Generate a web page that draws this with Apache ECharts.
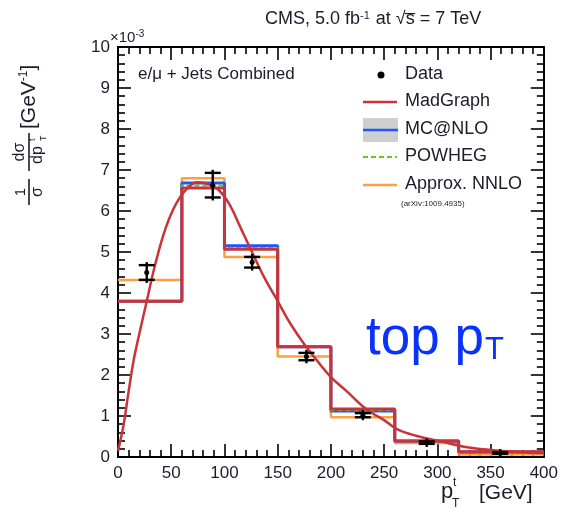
<!DOCTYPE html>
<html>
<head>
<meta charset="utf-8">
<script src="https://cdn.jsdelivr.net/npm/echarts@6/dist/echarts.min.js"></script>
<style>
  html, body { margin: 0; padding: 0; background: #fff; }
  #chart { width: 561px; height: 517px; }
</style>
</head>
<body>
<div id="chart"></div>
<script>
// Bin edges of the top-quark pT distribution [GeV]
const binEdges = [0, 60, 100, 150, 200, 260, 320, 400];

// Normalised cross sections per bin (units of 1e-3 GeV^-1)
const madgraph = [3.80, 6.56, 5.07, 2.69, 1.17, 0.39, 0.13];
const mcatnlo  = [3.80, 6.68, 5.15, 2.69, 1.12, 0.39, 0.12];
const powheg   = [3.80, 6.62, 5.10, 2.69, 1.14, 0.39, 0.12];
const approxNNLO = [4.32, 6.80, 4.88, 2.45, 0.97, 0.34, 0.06];

// Measured points: pT position, value, uncertainty
const dataX   = [27, 89, 126, 177, 230, 290, 359];
const dataY   = [4.50, 6.63, 4.75, 2.45, 1.02, 0.35, 0.10];
const dataErr = [0.18, 0.30, 0.13, 0.09, 0.05, 0.03, 0.02];

// Smooth MadGraph prediction (pT, value)
const curveX = [0, 5, 10, 15, 20, 27, 35, 45, 55, 65, 75, 85, 95, 105, 115, 125, 137, 150, 162, 175, 187, 200, 215, 234, 250, 262, 280, 305, 325, 350, 375, 400];
const curveY = [0.15, 0.75, 1.6, 2.4, 3.0, 3.8, 4.7, 5.6, 6.2, 6.55, 6.7, 6.65, 6.5, 6.15, 5.6, 5.05, 4.4, 3.8, 3.25, 2.75, 2.35, 1.95, 1.6, 1.15, 0.9, 0.68, 0.52, 0.37, 0.25, 0.17, 0.12, 0.09];

// Axis ticks
const xTicks = { min: 0, max: 400, interval: 50 };
const yTicks = { min: 0, max: 10, interval: 1 };

const FONT = '"Liberation Sans", Arial, Helvetica, sans-serif';
const TXT = '#1c1c2a';

const COL = {
  madgraph: '#c9343a',
  mcatnlo: '#1f56ff',
  powheg: '#5fcc1a',
  nnlo: '#ffa040',
  band: '#cfcfcf'
};

function stepData(vals) {
  const pts = vals.map((v, i) => [binEdges[i], v]);
  pts.push([binEdges[binEdges.length - 1], vals[vals.length - 1]]);
  return pts;
}

const chart = echarts.init(document.getElementById('chart'), null, { renderer: 'canvas' });

const axisCommon = {
  type: 'value',
  axisLine: { show: true, onZero: false, lineStyle: { color: '#000', width: 2 } },
  axisTick: { show: true, inside: true, length: 13, lineStyle: { color: '#000', width: 1.6 } },
  minorTick: { show: true, splitNumber: 5, length: 7, lineStyle: { color: '#000', width: 1.6 } },
  splitLine: { show: false },
  minorSplitLine: { show: false }
};

const labelStyle = { fontFamily: FONT, fontSize: 17, color: TXT };

const option = {
  animation: false,
  backgroundColor: '#fff',
  grid: { left: 118, right: 15, top: 47, bottom: 60, containLabel: false },
  xAxis: [
    Object.assign({}, axisCommon, {
      position: 'bottom', min: xTicks.min, max: xTicks.max, interval: xTicks.interval,
      axisLabel: Object.assign({ margin: 8 }, labelStyle)
    }),
    Object.assign({}, axisCommon, {
      position: 'top', min: xTicks.min, max: xTicks.max, interval: xTicks.interval,
      axisLabel: { show: false }
    })
  ],
  yAxis: [
    Object.assign({}, axisCommon, {
      position: 'left', min: yTicks.min, max: yTicks.max, interval: yTicks.interval,
      axisLabel: Object.assign({ margin: 8 }, labelStyle)
    }),
    Object.assign({}, axisCommon, {
      position: 'right', min: yTicks.min, max: yTicks.max, interval: yTicks.interval,
      axisLabel: { show: false }
    })
  ],
  series: [
    {
      name: 'Approx. NNLO', type: 'line', step: 'end', symbol: 'none',
      data: stepData(approxNNLO),
      lineStyle: { color: COL.nnlo, width: 2.5 }, z: 2
    },
    {
      name: 'MC@NLO', type: 'line', step: 'end', symbol: 'none',
      data: stepData(mcatnlo),
      lineStyle: { color: COL.mcatnlo, width: 3 }, z: 3
    },
    {
      name: 'POWHEG', type: 'line', step: 'end', symbol: 'none',
      data: stepData(powheg),
      lineStyle: { color: COL.powheg, width: 2, type: [5, 3] }, z: 4
    },
    {
      name: 'MadGraph', type: 'line', step: 'end', symbol: 'none',
      data: stepData(madgraph),
      lineStyle: { color: COL.madgraph, width: 3 }, z: 5
    },
    {
      name: 'MadGraph curve', type: 'line', smooth: 0.4, symbol: 'none',
      data: curveX.map((x, i) => [x, curveY[i]]),
      lineStyle: { color: COL.madgraph, width: 2.5 }, z: 6
    },
    {
      name: 'Data', type: 'custom', z: 10,
      data: dataX.map((x, i) => [x, dataY[i], dataErr[i]]),
      renderItem: function (params, api) {
        const x = api.value(0), y = api.value(1), e = api.value(2);
        const c = api.coord([x, y]);
        const hi = api.coord([x, y + e]);
        const lo = api.coord([x, y - e]);
        const half = 8;
        const st = { stroke: '#000', lineWidth: 2.4 };
        return {
          type: 'group',
          children: [
            { type: 'line', shape: { x1: c[0], y1: hi[1] - 3, x2: c[0], y2: lo[1] + 3 }, style: st },
            { type: 'line', shape: { x1: c[0] - half, y1: hi[1], x2: c[0] + half, y2: hi[1] }, style: st },
            { type: 'line', shape: { x1: c[0] - half, y1: lo[1], x2: c[0] + half, y2: lo[1] }, style: st },
            { type: 'circle', shape: { cx: c[0], cy: c[1], r: 2.5 }, style: { fill: '#000' } }
          ]
        };
      }
    }
  ],
  graphic: [
    // Header
    {
      type: 'text', left: 265, top: 10,
      style: {
        text: 'CMS, 5.0 fb{sup|-1} at √s\u0305 = 7 TeV',
        font: '18px ' + FONT, fill: TXT,
        rich: { sup: { fontSize: 11, verticalAlign: 'top', padding: [0, 1, 8, 0], fill: TXT, fontFamily: FONT } }
      }
    },
    {
      type: 'text', left: 110, top: 29,
      style: {
        text: '×10{sup|-3}', font: '15px ' + FONT, fill: TXT,
        rich: { sup: { fontSize: 10, padding: [0, 0, 8, 0], fill: TXT, fontFamily: FONT } }
      }
    },
    {
      type: 'text', left: 138, top: 66,
      style: { text: 'e/μ + Jets Combined', font: '17px ' + FONT, fill: TXT }
    },
    // Legend
    { type: 'circle', shape: { cx: 381, cy: 75, r: 3.5 }, style: { fill: '#000' } },
    { type: 'text', left: 405, top: 65, style: { text: 'Data', font: '18px ' + FONT, fill: TXT } },
    { type: 'line', shape: { x1: 363, y1: 102, x2: 397, y2: 102 }, style: { stroke: COL.madgraph, lineWidth: 2.5 } },
    { type: 'text', left: 405, top: 92, style: { text: 'MadGraph', font: '18px ' + FONT, fill: TXT } },
    { type: 'rect', shape: { x: 363, y: 118, width: 35, height: 24 }, style: { fill: COL.band } },
    { type: 'line', shape: { x1: 363, y1: 130, x2: 398, y2: 130 }, style: { stroke: COL.mcatnlo, lineWidth: 2.5 } },
    { type: 'text', left: 405, top: 120, style: { text: 'MC@NLO', font: '18px ' + FONT, fill: TXT } },
    { type: 'line', shape: { x1: 363, y1: 157, x2: 397, y2: 157 }, style: { stroke: COL.powheg, lineWidth: 2, lineDash: [5, 3] } },
    { type: 'text', left: 405, top: 147, style: { text: 'POWHEG', font: '18px ' + FONT, fill: TXT } },
    { type: 'line', shape: { x1: 363, y1: 185, x2: 397, y2: 185 }, style: { stroke: COL.nnlo, lineWidth: 2.5 } },
    { type: 'text', left: 405, top: 175, style: { text: 'Approx. NNLO', font: '18px ' + FONT, fill: TXT } },
    { type: 'text', left: 401, top: 200, style: { text: '(arXiv:1009.4935)', font: '8px ' + FONT, fill: TXT } },
    // Big annotation
    {
      type: 'text', left: 366, top: 313,
      style: {
        text: 'top p{sub|T}', font: '53px ' + FONT, fill: '#0a32ff',
        rich: { sub: { fontSize: 31, fill: '#0a32ff', fontFamily: FONT, verticalAlign: 'bottom', padding: [12, 0, 0, 1] } }
      }
    },
    // x-axis title
    { type: 'text', left: 441, top: 481, style: { text: 'p', font: '22px ' + FONT, fill: TXT } },
    { type: 'text', left: 453, top: 477, style: { text: 't', font: '12px ' + FONT, fill: TXT } },
    { type: 'text', left: 452, top: 498, style: { text: 'T', font: '12px ' + FONT, fill: TXT } },
    { type: 'text', left: 479, top: 483, style: { text: '[GeV]', font: '21px ' + FONT, fill: TXT } },
    // y-axis title (rotated, reading upward)
    {
      type: 'group', x: 29, y: 207, rotation: Math.PI / 2,
      children: [
        { type: 'line', shape: { x1: 2, y1: 0, x2: 28, y2: 0 }, style: { stroke: TXT, lineWidth: 1.6 } },
        { type: 'text', x: 15, y: -8, style: { text: '1', font: '15px ' + FONT, fill: TXT, align: 'center', verticalAlign: 'middle' } },
        { type: 'text', x: 15, y: 9, style: { text: 'σ', font: '16px ' + FONT, fill: TXT, align: 'center', verticalAlign: 'middle' } },
        { type: 'line', shape: { x1: 36, y1: 0, x2: 74, y2: 0 }, style: { stroke: TXT, lineWidth: 1.6 } },
        { type: 'text', x: 55, y: -9, style: { text: 'dσ', font: '16px ' + FONT, fill: TXT, align: 'center', verticalAlign: 'middle' } },
        { type: 'text', x: 52, y: 9, style: { text: 'dp', font: '16px ' + FONT, fill: TXT, align: 'center', verticalAlign: 'middle' } },
        { type: 'text', x: 66, y: 4, style: { text: 't', font: '9px ' + FONT, fill: TXT, align: 'left', verticalAlign: 'middle' } },
        { type: 'text', x: 66, y: 15, style: { text: 'T', font: '9px ' + FONT, fill: TXT, align: 'left', verticalAlign: 'middle' } },
        {
          type: 'text', x: 78, y: 0,
          style: {
            text: '[GeV{sup|-1}]', font: '21px ' + FONT, fill: TXT, align: 'left', verticalAlign: 'middle',
            rich: { sup: { fontSize: 12, padding: [0, 0, 10, 0], fill: TXT, fontFamily: FONT } }
          }
        }
      ]
    }
  ]
};

chart.setOption(option);
</script>
</body>
</html>
